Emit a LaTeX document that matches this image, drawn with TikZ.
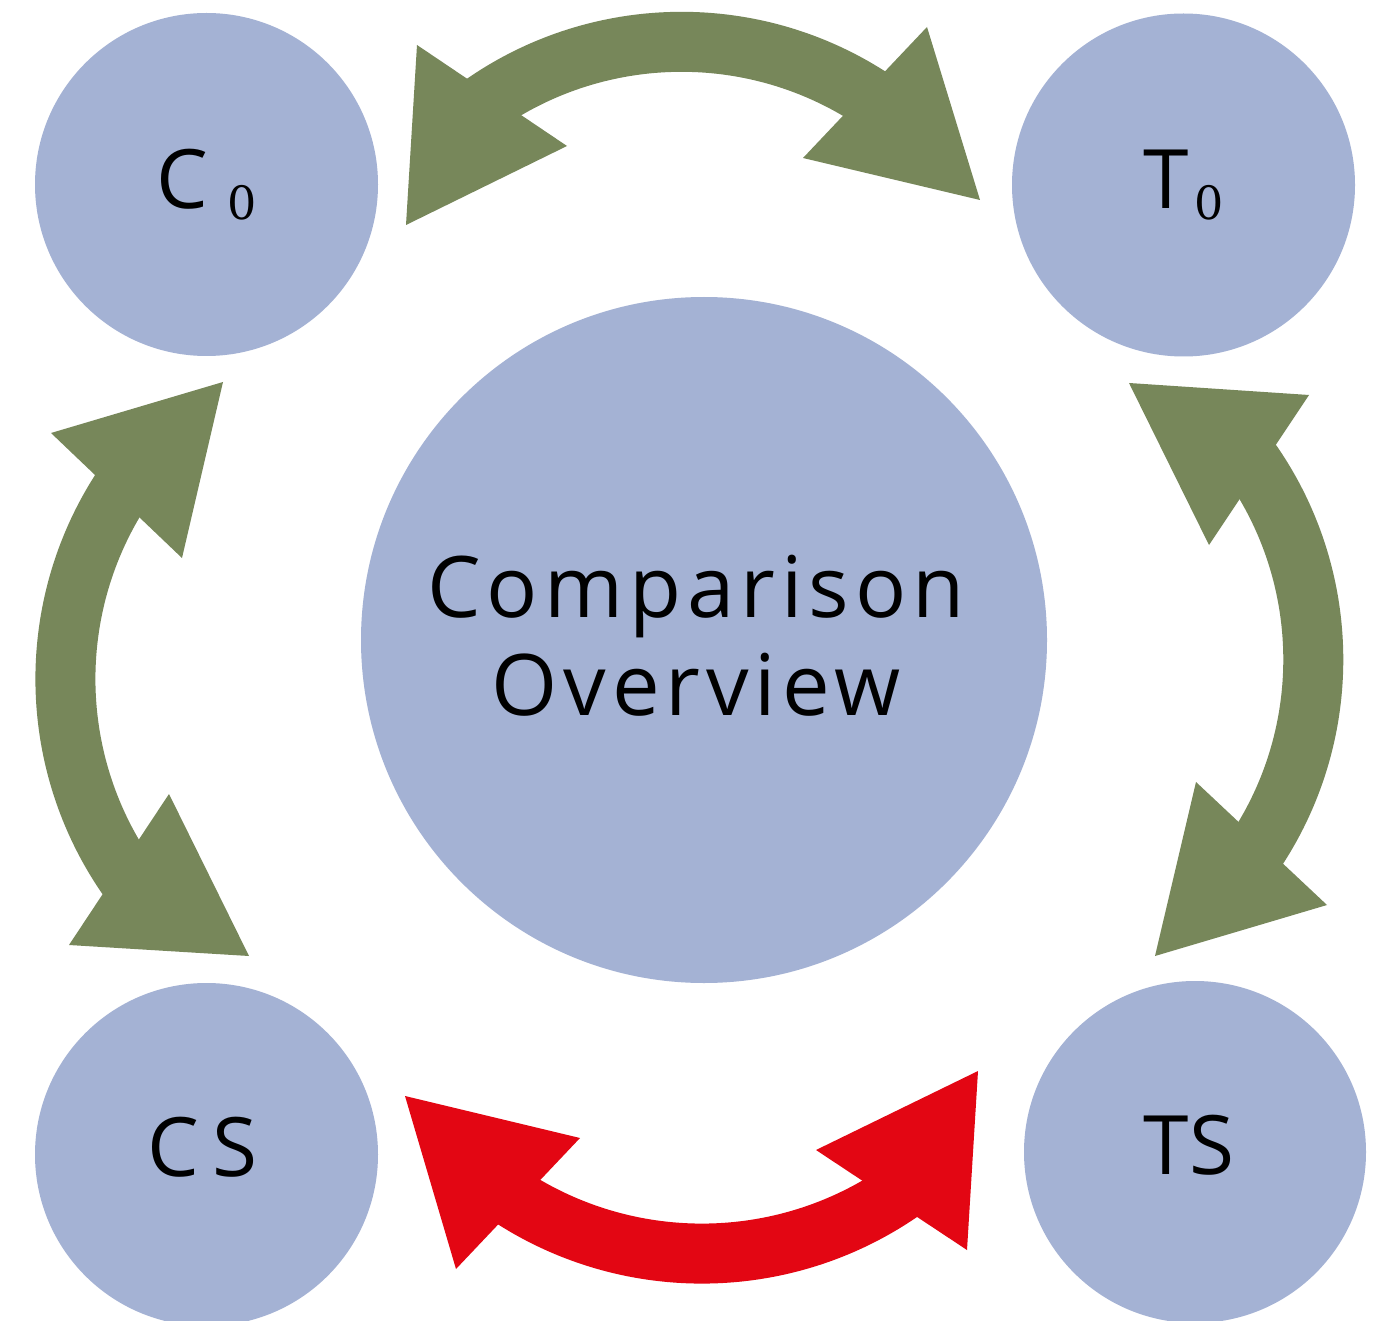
\documentclass[tikz,border=0pt]{standalone}
\usepackage{fontspec}
\setmainfont{Open Sans}
\newfontfamily\zerofont{DejaVu Serif}
\definecolor{nodefill}{RGB}{164,178,212}
\definecolor{arrowgreen}{RGB}{119,135,90}
\definecolor{arrowred}{RGB}{227,6,19}
\begin{document}
\begin{tikzpicture}[x=1pt,y=-1pt,
  bub/.style={circle,fill=nodefill,draw=none,inner sep=0pt,text=black},
  lbl/.style={font=\fontsize{82pt}{82pt}\selectfont},
  shaft/.style={line width=60pt,draw=#1,line cap=butt},
  head/.style={fill=#1,draw=none}]
\useasboundingbox (0,0) rectangle (1376,1321);
\fill[white] (0,0) rectangle (1376,1321);

% nodes
\node[bub,minimum size=686pt,
      label={[align=center,xshift=-8pt,yshift=4pt,
              font={\fontsize{85pt}{98pt}\selectfont\addfontfeature{LetterSpace=7}}]
              center:Comparison\\Overview}]
      (center) at (704,640) {};
\node[bub,minimum size=343pt,lbl] (C0) at (206.5,184.5)
      {C\hspace{20pt}\raisebox{-11pt}{\zerofont\fontsize{46pt}{46pt}\selectfont 0}};
\node[bub,minimum size=343pt,lbl] (T0) at (1183.5,185)
      {T\hspace{5pt}\raisebox{-11pt}{\zerofont\fontsize{46pt}{46pt}\selectfont 0}};
\node[bub,minimum size=343pt,lbl,text depth=16pt] (CS) at (206.5,1154.5) {C\hspace{14pt}S\kern8pt};
\node[bub,minimum size=342pt,lbl,text depth=15pt] (TS) at (1195,1152) {TS\kern12pt};

% C0 <-> T0
\coordinate (topc) at (681.6,389.3);
\draw[shaft=arrowgreen] (topc) ++(-126.6:347.5) arc[start angle=-126.6,end angle=-54.3,radius=347.5];
\fill[head=arrowgreen] (417,45) -- (406,225) -- (567,146) -- cycle;
\fill[head=arrowgreen] (927,27) -- (980,200) -- (803,158) -- cycle;

% T0 <-> TS
\coordinate (rightc) at (967.3,659.6);
\draw[shaft=arrowgreen] (rightc) ++(-36.8:346) arc[start angle=-36.8,end angle=35.9,radius=346];
\fill[head=arrowgreen] (1309,395) -- (1129,383) -- (1209,545) -- cycle;
\fill[head=arrowgreen] (1196,782) -- (1155,956) -- (1327,905) -- cycle;

% C0 <-> CS
\coordinate (leftc) at (413.8,679);
\draw[shaft=arrowgreen] (leftc) ++(143.3:348.4) arc[start angle=143.3,end angle=215.6,radius=348.4];
\fill[head=arrowgreen] (51,433) -- (223,382) -- (182,558) -- cycle;
\fill[head=arrowgreen] (169,794) -- (249,956) -- (69,945) -- cycle;

% CS <-> TS
\coordinate (botc) at (701.9,903);
\draw[shaft=arrowred] (botc) ++(53.75:350.6) arc[start angle=53.75,end angle=125.3,radius=350.6];
\fill[head=arrowred] (580,1138) -- (405,1096) -- (456,1269) -- cycle;
\fill[head=arrowred] (816,1150) -- (978,1071) -- (967,1250) -- cycle;
\end{tikzpicture}
\end{document}
